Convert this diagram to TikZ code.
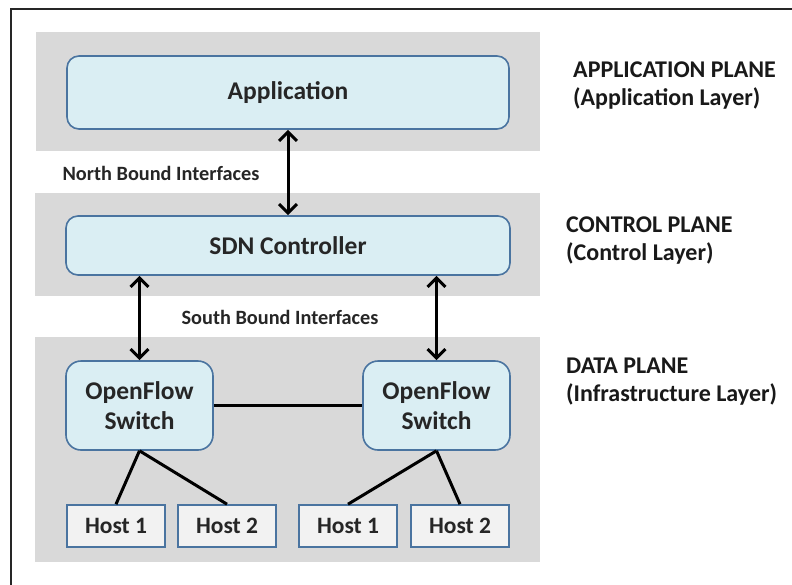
\documentclass[tikz,border=0pt]{standalone}
\usepackage{fontspec}
\setmainfont{Carlito}
\usetikzlibrary{arrows.meta}
\definecolor{bandgray}{HTML}{D9D9D9}
\definecolor{boxfill}{HTML}{DAEEF3}
\definecolor{boxedge}{HTML}{4A74A0}
\definecolor{hostfill}{HTML}{F2F2F2}
\definecolor{txt}{HTML}{262626}
\tikzset{
  band/.style={fill=bandgray},
  bluebox/.style={draw=boxedge, line width=1.6pt, fill=boxfill, rounded corners=12pt, text=txt, font=\fontsize{25.5}{30}\selectfont\bfseries, align=center, inner sep=0pt},
  hostbox/.style={draw=boxedge, line width=1.6pt, fill=hostfill, text=txt, font=\fontsize{23.5}{26}\selectfont\bfseries, inner sep=0pt, minimum width=98pt, minimum height=42pt},
  lbl/.style={text=txt, font=\fontsize{20.3}{24}\selectfont\bfseries, inner sep=0pt},
  plane/.style={text=black!90, font=\fontsize{24}{28}\selectfont\bfseries, align=left, anchor=west, inner sep=0pt},
  biarrow/.style={line width=3pt, black, {Straight Barb[length=9pt,width=18pt]}-{Straight Barb[length=9pt,width=18pt]}},
  link/.style={line width=3pt, black}
}
\begin{document}
\begin{tikzpicture}[x=1pt,y=-1pt]
\useasboundingbox (0,0) rectangle (792,584);
\fill[white] (0,0) rectangle (792,584);
% outer frame (top and left edges visible)
\draw[line width=2.4pt, black!85] (11,600) -- (11,9) -- (800,9);
% bands
\fill[band] (36,32) rectangle (540,151);
\fill[band] (35,193) rectangle (540,296);
\fill[band] (35,337) rectangle (540,562);
% nodes
\node[bluebox, minimum width=442pt, minimum height=73pt] (app) at (288,92.5) {Application};
\node[bluebox, minimum width=444pt, minimum height=59pt] (sdn) at (288,245.5) {SDN Controller};
\node[bluebox, rounded corners=15pt, minimum width=147pt, minimum height=89pt] (sw1) at (139.5,405.5) {OpenFlow\\Switch};
\node[bluebox, rounded corners=15pt, minimum width=147pt, minimum height=89pt] (sw2) at (436.5,405.5) {OpenFlow\\Switch};
\node[hostbox] (h11) at (116,526) {Host 1};
\node[hostbox] (h12) at (227,526) {Host 2};
\node[hostbox] (h21) at (348,526) {Host 1};
\node[hostbox] (h22) at (460,526) {Host 2};
% labels
\node[lbl] (nbi) at (161,173) {North Bound Interfaces};
\node[lbl] (sbi) at (280,317) {South Bound Interfaces};
\node[plane] (pa) at (573,86) {APPLICATION PLANE\\(Application Layer)};
\node[plane] (pc) at (566,241) {CONTROL PLANE\\(Control Layer)};
\node[plane] (pd) at (566,382) {DATA PLANE\\(Infrastructure Layer)};
% connectors
\draw[biarrow] (app.south) -- (sdn.north);
\draw[biarrow] (sdn.south -| sw1.north) -- (sw1.north);
\draw[biarrow] (sdn.south -| sw2.north) -- (sw2.north);
\draw[link] (sw1.east) -- (sw2.west);
\draw[link] (sw1.south) -- (h11.north);
\draw[link] (sw1.south) -- (h12.north);
\draw[link] (sw2.south) -- (h21.north);
\draw[link] (sw2.south) -- (h22.north);
\end{tikzpicture}
\end{document}
